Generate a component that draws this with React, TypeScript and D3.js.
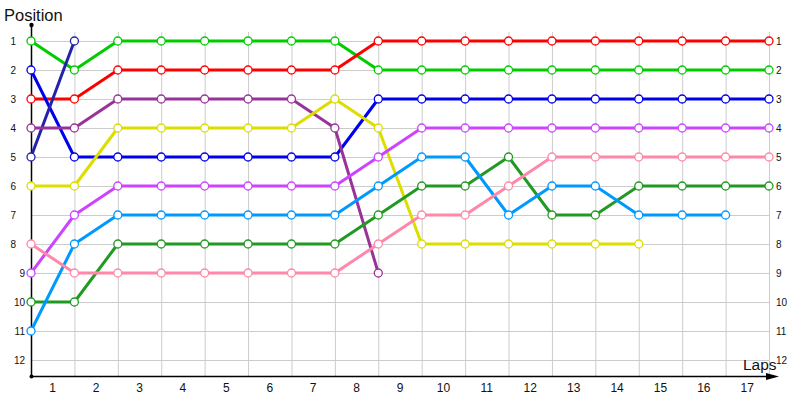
import React from "react";
import * as d3 from "d3";

const laps = ["1","2","3","4","5","6","7","8","9","10","11","12","13","14","15","16","17"];
const positions = [1,2,3,4,5,6,7,8,9,10,11,12];

const greenPos = [1,2,1,1,1,1,1,1,2,2,2,2,2,2,2,2,2,2];
const redPos = [3,3,2,2,2,2,2,2,1,1,1,1,1,1,1,1,1,1];
const bluePos = [2,5,5,5,5,5,5,5,3,3,3,3,3,3,3,3,3,3];
const navyPos = [5,1];
const purplePos = [4,4,3,3,3,3,3,4,9];
const yellowPos = [6,6,4,4,4,4,4,3,4,8,8,8,8,8,8];
const magentaPos = [9,7,6,6,6,6,6,6,5,4,4,4,4,4,4,4,4,4];
const darkGreenPos = [10,10,8,8,8,8,8,8,7,6,6,5,7,7,6,6,6,6];
const lightBluePos = [11,8,7,7,7,7,7,7,6,5,5,7,6,6,7,7,7];
const pinkPos = [8,9,9,9,9,9,9,9,8,7,7,6,5,5,5,5,5,5];

const seriesList = [
  { name: "green", color: "#00cc00", values: greenPos },
  { name: "red", color: "#ff0000", values: redPos },
  { name: "blue", color: "#0000ee", values: bluePos },
  { name: "navy", color: "#2222aa", values: navyPos },
  { name: "purple", color: "#993399", values: purplePos },
  { name: "yellow", color: "#dddd00", values: yellowPos },
  { name: "magenta", color: "#cc44ff", values: magentaPos },
  { name: "darkgreen", color: "#229922", values: darkGreenPos },
  { name: "lightblue", color: "#0099ff", values: lightBluePos },
  { name: "pink", color: "#ff88aa", values: pinkPos },
];

const W = 800, H = 400;
const x = d3.scaleLinear().domain([0, 17]).range([31, 769]);
const y = d3.scaleLinear().domain([1, 12]).range([41, 360]);
const axisY = 376;
const gridTop = 32;

const line = d3.line<number>().x((_, i) => x(i)).y((d) => y(d));

export default function App() {
  const font = "'Liberation Sans', Arial, sans-serif";
  return (
    <svg width={W} height={H} style={{ position: "absolute", left: 0, top: 0, background: "#fff" }} fontFamily={font}>
      {/* grid */}
      <g stroke="#cccccc" strokeWidth={1}>
        {d3.range(1, 18).map((i) => (
          <line key={"v" + i} x1={x(i) + 0.5} x2={x(i) + 0.5} y1={gridTop} y2={axisY} />
        ))}
        {positions.map((p) => (
          <line key={"h" + p} x1={x(0)} x2={x(17)} y1={Math.round(y(p)) + 0.5} y2={Math.round(y(p)) + 0.5} />
        ))}
      </g>
      {/* axes */}
      <line x1={x(0) + 0.5} x2={x(0) + 0.5} y1={25} y2={axisY} stroke="#000" strokeWidth={1.5} />
      <line x1={x(0)} x2={772} y1={axisY + 0.5} y2={axisY + 0.5} stroke="#000" strokeWidth={1.5} />
      <path d={`M766,${axisY - 3} L779,${axisY + 0.5} L766,${axisY + 4} Z`} fill="#000" />
      <circle cx={x(0) + 0.5} cy={25} r={2.2} fill="#000" />
      <circle cx={x(0) + 0.5} cy={axisY + 0.5} r={2} fill="#000" />
      {/* left labels */}
      {positions.map((p) => (
        <text key={"l" + p} x={p >= 9 ? 25 : 16} y={y(p) + 3.5} fontSize={10} textAnchor="end" fill="#111">{p}</text>
      ))}
      {/* right labels */}
      {positions.map((p) => (
        <text key={"r" + p} x={776} y={y(p) + 3.5} fontSize={10} textAnchor="start" fill="#111">{p}</text>
      ))}
      {/* x labels */}
      {laps.map((l, i) => (
        <text key={"x" + l} x={(x(i) + x(i + 1)) / 2} y={392} fontSize={12} textAnchor="middle" fill="#111">{l}</text>
      ))}
      <text x={4} y={21} fontSize={16.5} fill="#111">Position</text>
      <text x={743} y={370} fontSize={15.5} fill="#111">Laps</text>
      {/* series */}
      {seriesList.map((s) => (
        <g key={s.name}>
          <path d={line(s.values) || ""} fill="none" stroke={s.color} strokeWidth={3} strokeLinejoin="round" />
        </g>
      ))}
      {seriesList.map((s) => (
        <g key={s.name + "pts"}>
          {s.values.map((v, i) => (
            <circle key={i} cx={x(i)} cy={y(v)} r={4} fill="#fff" stroke={s.color} strokeWidth={1.3} />
          ))}
        </g>
      ))}
    </svg>
  );
}
